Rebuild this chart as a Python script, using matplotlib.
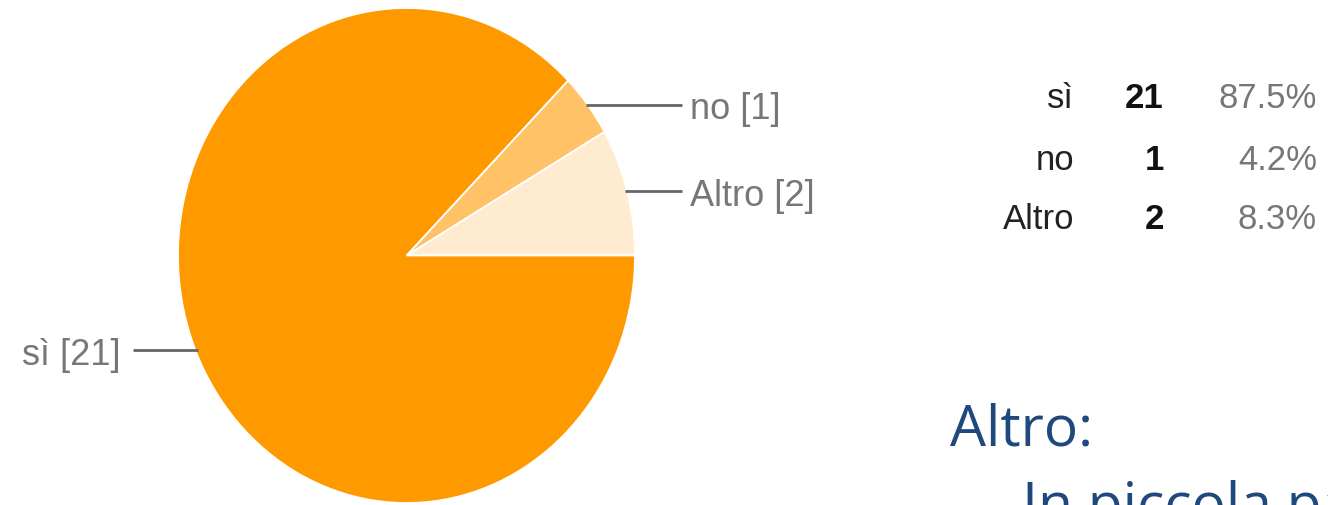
import numpy as np
import matplotlib
matplotlib.use("Agg")
import matplotlib.pyplot as plt

# slices in drawing order (counter-clockwise from 3 o'clock)
labels = ["Altro", "no", "sì"]
counts = [2, 1, 21]
colors = ["#FFEBCF", "#FFC266", "#FF9900"]

# summary table (top to bottom)
table_labels = ["sì", "no", "Altro"]
table_counts = [21, 1, 2]
table_pcts = ["87.5%", "4.2%", "8.3%"]

W, H = 1328, 505
fig = plt.figure(figsize=(W / 100, H / 100), dpi=100)

# pie box in pixels (the source is slightly stretched vertically)
left, right, top, bottom = 178, 635, 8, 503
ax = fig.add_axes([left / W, 1 - bottom / H, (right - left) / W, (bottom - top) / H])
wedges, _ = ax.pie(counts, colors=colors, startangle=0, counterclock=True,
                   wedgeprops=dict(edgecolor="white", linewidth=1.3))
ax.set_aspect("auto")
ax.set_xlim(-1, 1)
ax.set_ylim(-1, 1)

# leader lines + labels
total = sum(counts)
start = 0.0
for lab, c in zip(labels, counts):
    frac = c / total
    mid = np.deg2rad((start + frac / 2) * 360)
    start += frac
    x0, y0 = np.cos(mid), np.sin(mid)
    if x0 > 0:
        xe, xt, ha = 1.205, 1.24, "left"
    else:
        xe, xt, ha = -1.195, -1.25, "right"
    ax.plot([x0 * 0.99, xe], [y0, y0], color="#666666", lw=2, clip_on=False,
            solid_capstyle="butt")
    ax.text(xt, y0 - 0.02, f"{lab} [{c}]", ha=ha, va="center", fontsize=26,
            color="#777777", family="Liberation Sans", clip_on=False)

# table at top right
row_y = [98, 160, 220]
for lab, n, p, y in zip(table_labels, table_counts, table_pcts, row_y):
    fy = 1 - y / H
    fig.text(1074 / W, fy, lab, ha="right", va="center", fontsize=25,
             color="#222222", family="Liberation Sans")
    fig.text(1164 / W, fy, str(n), ha="right", va="center", fontsize=25,
             color="#111111", fontweight="bold", family="Liberation Sans")
    fig.text(1317 / W, fy, p, ha="right", va="center", fontsize=25,
             color="#777777", family="Liberation Sans")

# slide text, bottom right
fig.text(950 / W, 1 - 445 / H, "Altro:", ha="left", va="baseline", fontsize=41,
         color="#1F497D", family="Open Sans")
fig.text(952 / W, 1 - 530 / H, "–", ha="left", va="baseline", fontsize=41,
         color="#A7BFDE", family="Open Sans")
fig.text(1022 / W, 1 - 523 / H, "In piccola parte", ha="left", va="baseline",
         fontsize=41, color="#1F497D", family="Open Sans")

fig.savefig("out.png", dpi=100)
